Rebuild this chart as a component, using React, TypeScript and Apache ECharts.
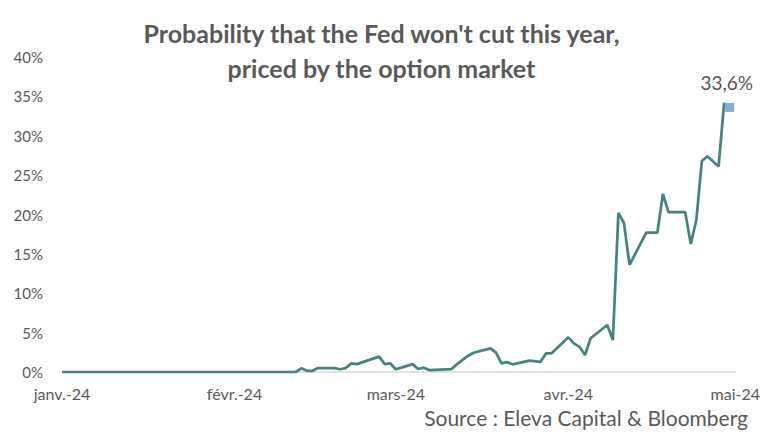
import React, { useEffect, useRef } from "react";
import * as echarts from "echarts";

const dates = [
  "2024-01-01", "2024-02-12", "2024-02-13", "2024-02-14", "2024-02-15", "2024-02-16",
  "2024-02-19", "2024-02-20", "2024-02-21", "2024-02-22", "2024-02-23", "2024-02-27",
  "2024-02-28", "2024-02-29", "2024-03-01", "2024-03-02", "2024-03-04", "2024-03-05",
  "2024-03-06", "2024-03-07", "2024-03-11", "2024-03-12", "2024-03-14", "2024-03-15",
  "2024-03-18", "2024-03-19", "2024-03-20", "2024-03-21", "2024-03-22", "2024-03-25",
  "2024-03-27", "2024-03-28", "2024-03-29", "2024-04-01", "2024-04-02", "2024-04-03",
  "2024-04-04", "2024-04-05", "2024-04-08", "2024-04-09", "2024-04-10", "2024-04-11",
  "2024-04-12", "2024-04-15", "2024-04-17", "2024-04-18", "2024-04-19", "2024-04-22",
  "2024-04-23", "2024-04-24", "2024-04-25", "2024-04-26", "2024-04-28", "2024-04-29",
];
const values = [
  0, 0, 0.47, 0.15, 0.15, 0.5,
  0.5, 0.35, 0.5, 1.1, 1.0, 1.95,
  1.0, 1.1, 0.35, 0.55, 1.0, 0.38,
  0.55, 0.25, 0.38, 1.0, 2.07, 2.45,
  3.0, 2.45, 1.1, 1.25, 0.98, 1.44,
  1.3, 2.37, 2.37, 4.4, 3.64, 3.2,
  2.16, 4.28, 5.97, 4.06, 20.2, 18.9,
  13.6, 17.7, 17.7, 22.6, 20.3, 20.3,
  16.25, 19.3, 26.8, 27.4, 26.1, 34.2,
];
const lastDate = "2024-04-30";
const lastValue = 33.6;
const monthTicks = ["2024-01-01", "2024-02-01", "2024-03-01", "2024-04-01", "2024-05-01"];
const monthNames = ["janv.", "févr.", "mars", "avr.", "mai", "juin", "juil.", "août", "sept.", "oct.", "nov.", "déc."];

const titleText = "Probability that the Fed won't cut this year,\npriced by the option market";
const sourceText = "Source : Eleva Capital & Bloomberg";

const ts = (d: string) => Date.UTC(+d.slice(0, 4), +d.slice(5, 7) - 1, +d.slice(8, 10));

export default function App() {
  const ref = useRef<HTMLDivElement>(null);
  useEffect(() => {
    document.body.style.margin = "0";
    const chart = echarts.init(ref.current!, null, { renderer: "svg" });
    const grey = "#595959";
    chart.setOption({
      animation: false,
      textStyle: { fontFamily: "Lato" },
      title: {
        text: titleText,
        left: "center",
        top: 10,
        textStyle: { fontFamily: "Lato", fontWeight: "bold", fontSize: 25, color: grey, lineHeight: 35 },
      },
      graphic: [
        {
          type: "text",
          right: 15,
          top: 407,
          style: { text: sourceText, fill: grey, font: "21px Lato" },
        },
      ],
      grid: { left: 62, right: 22, top: 57, bottom: 64 },
      xAxis: {
        type: "value",
        min: ts(monthTicks[0]),
        max: ts(monthTicks[monthTicks.length - 1]),
        axisLine: { show: true, onZero: false, lineStyle: { color: "#D9D9D9", width: 1.5 } },
        axisTick: { show: false },
        splitLine: { show: false },
        axisLabel: {
          customValues: monthTicks.map(ts),
          color: grey,
          fontSize: 16,
          margin: 13,
          hideOverlap: false,
          formatter: (v: number) => {
            const d = new Date(v);
            return monthNames[d.getUTCMonth()] + "-" + String(d.getUTCFullYear()).slice(2);
          },
        },
      },
      yAxis: {
        type: "value",
        min: 0,
        max: 40,
        interval: 5,
        axisLine: { show: false },
        axisTick: { show: false },
        splitLine: { show: false },
        axisLabel: { color: grey, fontSize: 15, margin: 19, formatter: "{value}%" },
      },
      series: [
        {
          type: "line",
          data: dates.map((d, i) => [ts(d), values[i]]),
          symbol: "none",
          lineStyle: { color: "#47837E", width: 2.75 },
          z: 2,
        },
        {
          type: "scatter",
          data: [[ts(lastDate), lastValue]],
          symbol: "rect",
          symbolSize: 9,
          itemStyle: { color: "#5B9BD5" },
          label: {
            show: true,
            position: "top",
            distance: 11,
            offset: [-3, 0],
            color: "#262626",
            fontSize: 19,
            formatter: () => String(lastValue).replace(".", ",") + "%",
          },
          z: 3,
        },
      ],
    });
    return () => chart.dispose();
  }, []);
  return <div ref={ref} style={{ width: 763, height: 436 }} />;
}
